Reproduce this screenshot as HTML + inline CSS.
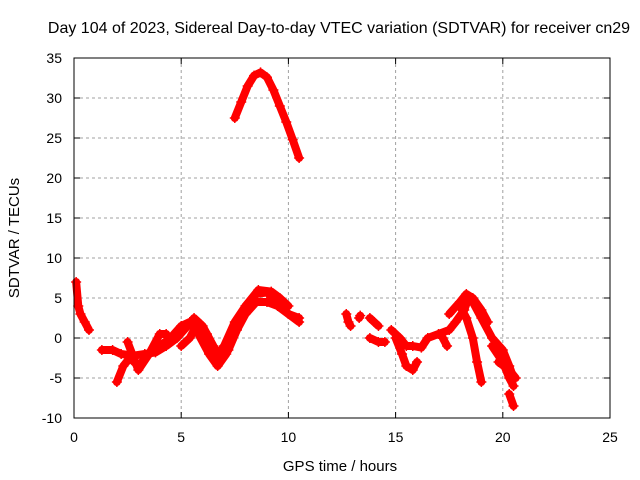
<!DOCTYPE html>
<html><head><meta charset="utf-8"><style>
body{margin:0;background:#fff}
svg{display:block;font-family:"Liberation Sans",sans-serif}
</style></head><body>
<svg id="chart" width="640" height="480" viewBox="0 0 640 480">
<rect width="640" height="480" fill="#fff"/>
<text x="339" y="33" font-size="16" text-anchor="middle">Day 104 of 2023, Sidereal Day-to-day VTEC variation (SDTVAR) for receiver cn29</text>
<text transform="translate(19,238) rotate(-90)" font-size="15" text-anchor="middle">SDTVAR / TECUs</text>
<text x="340" y="471" font-size="15" text-anchor="middle">GPS time / hours</text>
<g id="grid"></g>
<g id="ticks"></g>
<g id="marks"></g>
<rect x="74" y="58" width="536" height="360" fill="none" stroke="#000" stroke-width="1"/>
</svg>
<script>
const xTicks=[0,5,10,15,20,25];
const yTicks=[-10,-5,0,5,10,15,20,25,30,35];
const trackArc=[[7.5,27.5],[7.8,29.5],[8.1,31.5],[8.4,32.8],[8.7,33.2],[9.0,32.6],[9.3,31],[9.6,29],[9.9,27],[10.2,24.8],[10.5,22.5]];
const trackEarly=[[0.1,7],[0.2,4],[0.3,3],[0.5,2],[0.7,1]];
const trackA=[[1.3,-1.5],[1.8,-1.5],[2.2,-2],[2.8,-2.2],[3.3,-2],[3.8,-1.8],[4.3,-1],[4.8,0],[5.3,1.5],[5.6,2.5],[6.0,1.5],[6.5,-1],[6.8,-2.5],[7.2,-1.5],[7.6,1],[8,3],[8.5,4.5],[9,4.5],[9.5,4],[10,3],[10.5,2]];
const trackB=[[2.0,-5.5],[2.3,-3.5],[2.6,-2.5],[3.0,-3.5],[3.5,-2],[4,-1],[4.5,0],[5,1.5],[5.4,2],[5.8,0.5],[6.3,-2],[6.7,-3.5],[7.1,-2],[7.5,1],[8,4],[8.5,5.5],[9,5.7],[9.5,4.5],[10,3],[10.5,2.5]];
const trackC=[[2.5,-0.5],[3.0,-4],[3.5,-2],[4,0.5],[4.3,0.5]];
const trackD=[[5.0,-1],[5.4,0],[5.8,2],[6.2,0.5],[6.6,-2.5],[7,-1],[7.5,2],[8,4],[8.6,6],[9.2,5.8],[9.6,5],[10,4]];
const trackE=[[12.7,3],[12.8,2],[12.9,1.5]];
const trackF=[[13.3,2.5],[13.35,2.8]];
const trackG=[[13.8,2.5],[14,2],[14.2,1.5]];
const trackH=[[13.8,0],[14.2,-0.5],[14.5,-0.5]];
const trackI=[[14.8,1],[15.2,0],[15.5,-1],[15.8,-1],[16.2,-1.2],[16.5,0],[17,0.5],[17.5,1],[17.8,2],[18.2,3.5],[18.4,5],[18.6,4.5],[19,2.5],[19.5,0],[20,-1.5],[20.3,-3.5],[20.5,-5]];
const trackJ=[[15,0],[15.3,-2],[15.5,-3.5],[15.8,-4],[16,-3]];
const trackK=[[17.5,3],[18,4.5],[18.3,5.5],[18.6,5],[19,3.5],[19.3,2]];
const trackL=[[18,4],[18.3,2.5],[18.6,0],[18.8,-3],[19,-5.5]];
const trackM=[[17.2,0],[17.4,-1]];
const trackN=[[19.5,-1],[20,-3],[20.3,-5],[20.5,-6]];
const trackO=[[20.3,-7],[20.5,-8.5]];
const trackP=[[19.8,-3],[20.3,-4],[20.6,-5]];
const tracks=[trackArc,trackEarly,trackA,trackB,trackC,trackD,trackE,trackF,trackG,trackH,trackI,trackJ,trackK,trackL,trackM,trackN,trackO,trackP];

const X=v=>74+v*536/25;
const Y=v=>418-(v+10)*8;
const NS="http://www.w3.org/2000/svg";
const grid=document.getElementById('grid'),ticks=document.getElementById('ticks'),marks=document.getElementById('marks');
function mk(tag,attrs,parent){const e=document.createElementNS(NS,tag);for(const k in attrs)e.setAttribute(k,attrs[k]);parent.appendChild(e);return e;}
xTicks.forEach(t=>{
  if(t>0&&t<25){const g=mk('line',{x1:X(t),x2:X(t),y1:58,y2:418,stroke:'#a0a0a0','stroke-dasharray':'3,3'},grid);
  
  }
  mk('line',{x1:X(t),x2:X(t),y1:418,y2:412,stroke:'#000'},ticks);
  mk('line',{x1:X(t),x2:X(t),y1:58,y2:64,stroke:'#000'},ticks);
  const l=mk('text',{x:X(t),y:442,'font-size':14,'text-anchor':'middle'},ticks);l.textContent=t;
  
  
});
yTicks.forEach(t=>{
  if(t>-10&&t<35){const g=mk('line',{x1:74,x2:610,y1:Y(t),y2:Y(t),stroke:'#a0a0a0','stroke-dasharray':'3,3'},grid);
  
  }
  mk('line',{x1:74,x2:80,y1:Y(t),y2:Y(t),stroke:'#000'},ticks);
  mk('line',{x1:610,x2:604,y1:Y(t),y2:Y(t),stroke:'#000'},ticks);
  const l=mk('text',{x:62,y:Y(t)+5,'font-size':14,'text-anchor':'end'},ticks);l.textContent=t;
  
  
});
tracks.forEach(tr=>{
  const p=mk('polyline',{points:tr.map(d=>X(d[0])+','+Y(d[1])).join(' '),fill:'none',stroke:'#ff0000','stroke-width':8,'stroke-linejoin':'round','stroke-linecap':'round'},marks);
  
  
  tr.forEach(d=>{
    const x=X(d[0]),y=Y(d[1]);
    const m=mk('path',{d:`M${x-5},${y}H${x+5}M${x},${y-5}V${y+5}`,stroke:'#ff0000','stroke-width':1.5},marks);
    
    
  });
});
</script>
</body></html>
